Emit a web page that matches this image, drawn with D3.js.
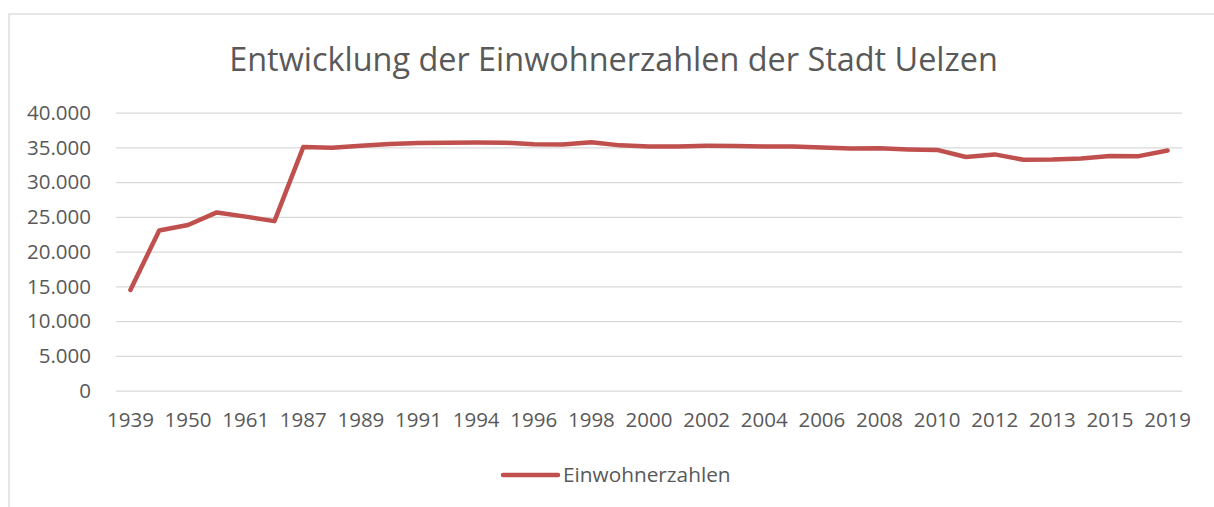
<!DOCTYPE html>
<html>
<head>
  <meta charset="utf-8">
  <title>Einwohnerzahlen Uelzen</title>
  <script src="https://d3js.org/d3.v7.min.js"></script>
  <style>
    body {
      margin: 0;
      padding: 0;
      background: white;
      font-family: "Open Sans", sans-serif;
    }
    svg text {
      font-family: "Open Sans", sans-serif;
    }
    .grid line {
      stroke: #d9d9d9;
      stroke-width: 1.3;
    }
    .tick text {
      fill: #595959;
      font-size: 20.5px;
    }
  </style>
</head>
<body>
  <div id="chart"></div>
  <script>

  // x categories (only every second one is labelled on the axis)
  var years = ["1939", "1946", "1950", "1956", "1961", "1970", "1987", "1988", "1989", "1990",
               "1991", "1993", "1994", "1995", "1996", "1997", "1998", "1999", "2000", "2001",
               "2002", "2003", "2004", "2005", "2006", "2007", "2008", "2009", "2010", "2011",
               "2012", "2012", "2013", "2014", "2015", "2017", "2019"]

  // population values
  var einwohner = [14500, 23050, 23850, 25650, 25050, 24400, 35050, 34950, 35250, 35500,
                   35640, 35690, 35700, 35690, 35450, 35420, 35750, 35300, 35150, 35150,
                   35230, 35220, 35150, 35120, 34980, 34850, 34870, 34720, 34650, 33620,
                   34000, 33220, 33260, 33400, 33780, 33750, 34550]

  var yTicks = [0, 5000, 10000, 15000, 20000, 25000, 30000, 35000, 40000]

  var seriesName = "Einwohnerzahlen"
  var titleText = "Entwicklung der Einwohnerzahlen der Stadt Uelzen"

  var width = 1214,
      height = 507

  var margin = {left: 116, right: 32, top: 112.7, bottom: 116.3}

  var svg = d3.select("#chart")
      .append("svg")
      .attr("width", width)
      .attr("height", height)

  // chart area border (cropped at right and bottom)
  svg.append("rect")
      .attr("x", 9)
      .attr("y", 14)
      .attr("width", width + 50)
      .attr("height", height + 50)
      .attr("fill", "white")
      .attr("stroke", "#d9d9d9")
      .attr("stroke-width", 1.3)

  var x = d3.scaleBand()
      .domain(d3.range(years.length))
      .range([margin.left, width - margin.right])

  var y = d3.scaleLinear()
      .domain([0, 40000])
      .range([height - margin.bottom, margin.top])

  var fmt = d3.format(",.0f")
  function german(v) { return fmt(v).replace(/,/g, ".") }

  // horizontal gridlines + y labels
  var yAxis = svg.append("g")
      .attr("class", "grid")
      .attr("transform", "translate(" + margin.left + ",0)")
      .call(d3.axisLeft(y)
        .tickValues(yTicks)
        .tickSize(-(width - margin.left - margin.right))
        .tickPadding(25)
        .tickFormat(german))
  yAxis.select(".domain").remove()

  // x labels
  var xAxis = svg.append("g")
      .attr("transform", "translate(0," + (height - margin.bottom) + ")")
      .call(d3.axisBottom(x)
        .tickValues(d3.range(0, years.length, 2))
        .tickSize(0)
        .tickPadding(22)
        .tickFormat(function (i) { return years[i] }))
  xAxis.select(".domain").remove()

  // the line
  var line = d3.line()
      .x(function (d, i) { return x(i) + x.bandwidth() / 2 })
      .y(function (d) { return y(d) })

  svg.append("path")
      .datum(einwohner)
      .attr("d", line)
      .attr("fill", "none")
      .attr("stroke", "#c0504d")
      .attr("stroke-width", 4.5)
      .attr("stroke-linejoin", "round")
      .attr("stroke-linecap", "round")

  // title, fitted to the width seen in the reference
  var title = svg.append("text")
      .attr("x", 613.5)
      .attr("y", 71)
      .attr("text-anchor", "middle")
      .attr("fill", "#595959")
      .style("font-size", "30px")
      .text(titleText)
  var tw = title.node().getComputedTextLength()
  title.style("font-size", (30 * 769 / tw) + "px")

  // legend
  var legend = svg.append("g")
      .attr("transform", "translate(503,475)")
  legend.append("line")
      .attr("x1", 0)
      .attr("x2", 55)
      .attr("stroke", "#c0504d")
      .attr("stroke-width", 4.5)
      .attr("stroke-linecap", "round")
  legend.append("text")
      .attr("x", 60)
      .attr("y", 7)
      .attr("fill", "#595959")
      .style("font-size", "20.8px")
      .text(seriesName)

  </script>
</body>
</html>
